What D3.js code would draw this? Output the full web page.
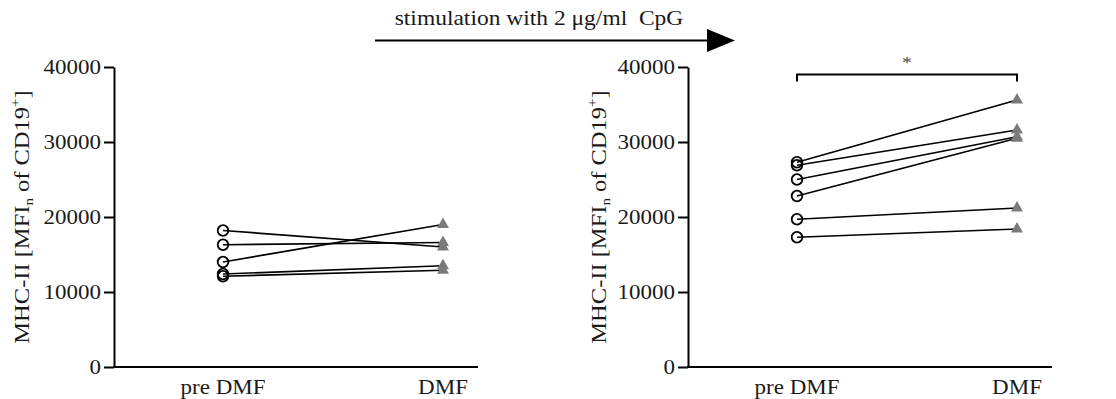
<!DOCTYPE html>
<html>
<head>
<meta charset="utf-8">
<script src="https://cdn.jsdelivr.net/npm/d3@7"></script>
<style>
  html, body { margin: 0; padding: 0; background: #fff; }
  svg { display: block; }
  text { white-space: pre; }
</style>
</head>
<body>
<svg id="chart" width="1116" height="399"></svg>
<script>
const categories = ["pre DMF", "DMF"];
const yTicks = [0, 10000, 20000, 30000, 40000];

// unstimulated (left) and CpG stimulated (right), paired per donor
const leftPre  = [18200, 16300, 14000, 12400, 12100];
const leftPost = [16000, 16600, 19000, 13500, 12900];
const rightPre  = [27300, 26900, 25000, 22800, 19700, 17300];
const rightPost = [35600, 31600, 30700, 30500, 21200, 18400];

const titleText = "stimulation with 2 \u03bcg/ml  CpG";
const sigText = "*";

const FONT = "'Liberation Serif', 'DejaVu Serif', serif";
const SQ = 0.88;          // text looks wide and low in the original
const panelW = 364;
const yTop = 67, yBot = 367;

const svg = d3.select("#chart");

const y = d3.scaleLinear().domain([0, 40000]).range([yBot, yTop]);
const x = d3.scalePoint().domain(categories).range([109, 329]);

function label(g, px, py, rot, anchor, size) {
  return g.append("text")
    .attr("transform", `translate(${px},${py}) rotate(${rot}) scale(1,${SQ})`)
    .attr("text-anchor", anchor)
    .attr("font-family", FONT)
    .attr("font-size", size)
    .attr("fill", "#1a1a1a");
}

function drawPanel(x0, labelX, pre, post, sig) {
  const g = svg.append("g").attr("transform", `translate(${x0},0)`);

  const ax = g.append("g")
    .call(d3.axisLeft(y).tickValues(yTicks).tickSize(10).tickSizeOuter(0).tickPadding(3)
      .tickFormat(d3.format("d")));
  ax.select(".domain").attr("stroke", "#000").attr("stroke-width", 2);
  ax.selectAll(".tick line").attr("stroke", "#000").attr("stroke-width", 2);
  ax.selectAll(".tick text")
    .attr("font-family", FONT)
    .attr("font-size", 23)
    .attr("fill", "#1a1a1a")
    .attr("transform", `scale(1,${SQ})`);

  // x baseline
  g.append("line")
    .attr("x1", -1).attr("x2", panelW)
    .attr("y1", y(0)).attr("y2", y(0))
    .attr("stroke", "#000").attr("stroke-width", 2);

  categories.forEach(c => {
    label(g, x(c), y(0) + 27, 0, "middle", 23).text(c);
  });

  // y axis title
  const t = label(g, labelX - x0, (yTop + yBot) / 2, -90, "middle", 24.5);
  t.append("tspan").text("MHC-II [MFI");
  t.append("tspan").attr("font-size", 15).attr("dy", 5).text("n");
  t.append("tspan").attr("dy", -5).text(" of CD19");
  t.append("tspan").attr("font-size", 15).attr("dy", -10).text("+");
  t.append("tspan").attr("dy", 10).text("]");

  const pairs = pre.map((v, i) => [v, post[i]]);

  g.append("g").selectAll("line")
    .data(pairs)
    .join("line")
    .attr("x1", x(categories[0])).attr("y1", d => y(d[0]))
    .attr("x2", x(categories[1])).attr("y2", d => y(d[1]))
    .attr("stroke", "#000").attr("stroke-width", 1.7);

  g.append("g").selectAll("circle")
    .data(pre)
    .join("circle")
    .attr("cx", x(categories[0]))
    .attr("cy", d => y(d))
    .attr("r", 5.3)
    .attr("fill", "none")
    .attr("stroke", "#000")
    .attr("stroke-width", 1.8);

  const tri = d3.symbol().type(d3.symbolTriangle).size(62);
  g.append("g").selectAll("path")
    .data(post)
    .join("path")
    .attr("d", tri)
    .attr("transform", d => `translate(${x(categories[1])},${y(d)})`)
    .attr("fill", "#7a7a7a");

  if (sig) {
    const by = 74.5;
    g.append("path")
      .attr("d", `M${x(categories[0])},${by + 7}V${by}H${x(categories[1])}V${by + 7}`)
      .attr("fill", "none").attr("stroke", "#000").attr("stroke-width", 2);
    label(g, (x(categories[0]) + x(categories[1])) / 2, by - 7, 0, "middle", 20)
      .attr("fill", "#444").text(sigText);
  }
}

drawPanel(114, 29, leftPre, leftPost, false);
drawPanel(688, 606, rightPre, rightPost, true);

// stimulation arrow across the top
svg.append("line")
  .attr("x1", 375).attr("x2", 710)
  .attr("y1", 40.5).attr("y2", 40.5)
  .attr("stroke", "#000").attr("stroke-width", 2);
svg.append("path")
  .attr("d", "M707,29L735,40.5L707,52Z")
  .attr("fill", "#000");
label(svg, 539, 25, 0, "middle", 23.5).text(titleText);
</script>
</body>
</html>
